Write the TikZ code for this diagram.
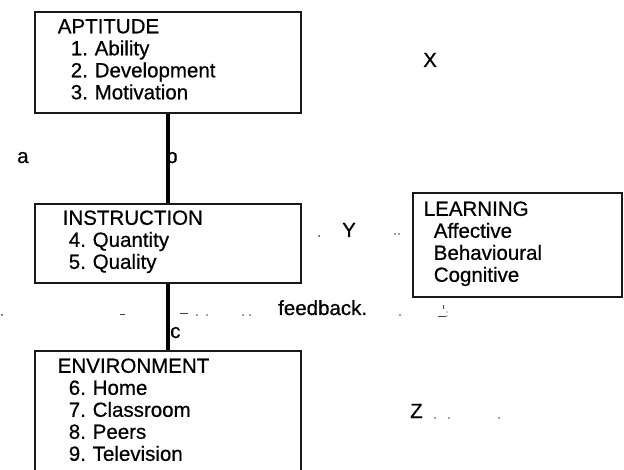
\documentclass[tikz,border=0pt]{standalone}
\usepackage{fontspec}
\setmainfont{Liberation Sans}
% slightly heavier strokes, like ink that has spread a little
\newfontfamily\inkfont{Liberation Sans}[FakeBold=0.6]
\newcommand\diagfont{\inkfont\frenchspacing\fontsize{20.5}{22}\selectfont}
\begin{document}
\begin{tikzpicture}[x=1pt, y=-1pt,
  box/.style={draw=black!90, line width=1.6pt, anchor=north west, align=left,
    inner xsep=23pt, inner ysep=0pt, text width=220pt, font=\diagfont},
  lbl/.style={anchor=base west, inner sep=0pt, font=\diagfont},
  link/.style={line width=4pt, black},
  speck/.style={black!75}
]
\useasboundingbox (0,0) rectangle (624,470);
\clip (0,0) rectangle (624,470);

% the four factor boxes
\node[box, text height=21.5pt, text depth=79.5pt] (apt) at (34,11)
  {APTITUDE\\ \hspace*{13pt}1. Ability\\ \hspace*{13pt}2. Development\\ \hspace*{13pt}3. Motivation};
\node[box, text height=21pt, text depth=58pt] (ins) at (34,203)
  {\hspace*{5pt}INSTRUCTION\\ \hspace*{11pt}4. Quantity\\ \hspace*{11pt}5. Quality};
\node[box, text height=22pt, text depth=130pt] (env) at (34,350)
  {ENVIRONMENT\\ \hspace*{11pt}6. Home\\ \hspace*{11pt}7. Classroom\\ \hspace*{11pt}8. Peers\\ \hspace*{11pt}9. Television};
\node[box, inner xsep=11pt, text width=187pt, text height=23pt, text depth=81pt] (lrn) at (412,192)
  {LEARNING\\ \hspace*{10pt}Affective\\ \hspace*{10pt}Behavioural\\ \hspace*{10pt}Cognitive};

% heavy links down the left column
\draw[link] (apt.south) -- (ins.north);
\draw[link] (ins.south) -- (env.north);

% letters and labels
\node[lbl] (la) at (17,163) {a};
\node[lbl] (lb) at (166,163) {b};
\node[lbl] (lc) at (170,338) {c};
\node[lbl] (lx) at (423,67) {X};
\node[lbl] (ly) at (342,237) {Y};
\node[lbl] (lz) at (410,418) {Z};
\node[lbl] (fb) at (278,315) {feedback.};

% faint specks left along the dotted paths
\fill[speck] (319,236) circle (1pt);
\fill[speck] (395,234) circle (0.8pt);
\fill[speck] (399,234) circle (0.8pt);
\fill[speck] (435,418) circle (0.9pt);
\fill[speck] (449,418) circle (0.9pt);
\fill[speck] (499,418) circle (0.9pt);
\fill[speck] (2,315) circle (1pt);
\fill[speck] (120,314) rectangle (125,315.5);
\fill[speck] (180,313) rectangle (188,314.5);
\fill[speck] (197,315) circle (0.8pt);
\fill[speck] (207,315) circle (0.8pt);
\fill[speck] (243,315) circle (0.8pt);
\fill[speck] (250,315) circle (0.8pt);
\fill[speck] (400,315) circle (0.9pt);
\fill[speck] (443,305) rectangle (444,309);
\fill[speck] (438,316) rectangle (446,317.5);
\fill[speck] (447,312) circle (0.7pt);
\fill[speck] (447,316) circle (0.7pt);
\end{tikzpicture}
\end{document}
